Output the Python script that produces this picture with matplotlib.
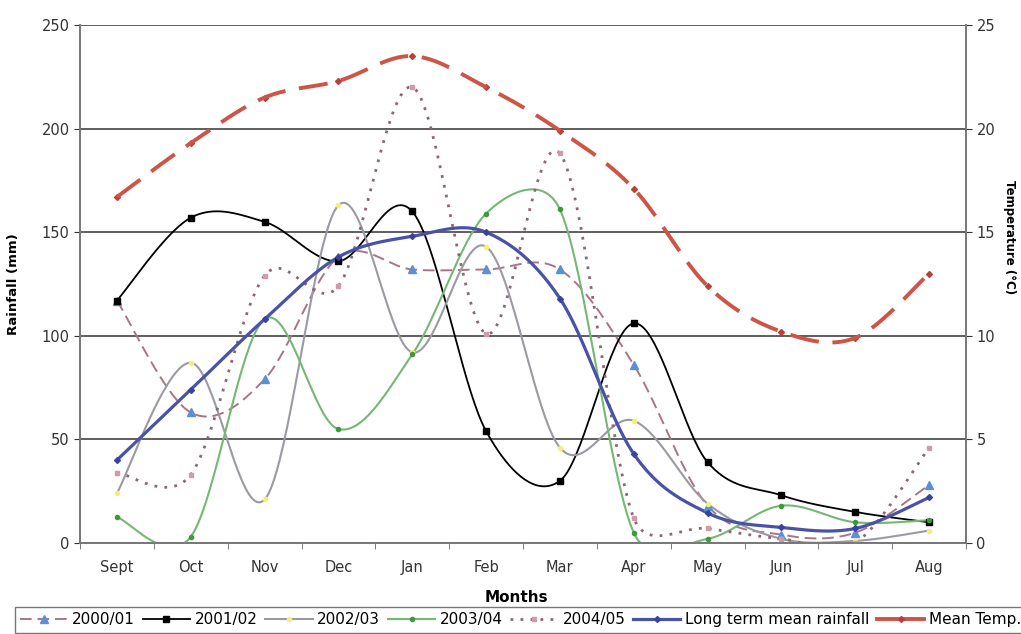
import numpy as np
import matplotlib.pyplot as plt
from matplotlib.lines import Line2D

plt.rcParams['font.family'] = ['DejaVu Sans']

# monthly rainfall (mm) per season and mean temperature (deg C)
months = ['Sept', 'Oct', 'Nov', 'Dec', 'Jan', 'Feb', 'Mar', 'Apr', 'May', 'Jun', 'Jul', 'Aug']
rain_2000_01 = [117, 63, 79, 138, 132, 132, 132, 86, 18, 4, 5, 28]
rain_2001_02 = [117, 157, 155, 136, 160, 54, 30, 106, 39, 23, 15, 10]
rain_2002_03 = [24, 87, 21, 163, 92, 143, 46, 59, 19, 2, 1, 6]
rain_2003_04 = [12.5, 3, 108, 55, 91, 159, 161, 5, 2, 18, 10, 11]
rain_2004_05 = [34, 33, 129, 124, 220, 101, 188, 12, 7, 2, 0, 46]
rain_longterm = [40, 74, 108, 138, 148, 150, 118, 43, 14.5, 7.5, 7, 22]
temp_mean = [16.7, 19.3, 21.5, 22.3, 23.5, 22.0, 19.9, 17.1, 12.4, 10.2, 9.9, 13.0]

PX_X = 886 / 12          # pixels per month on screen
PX_RAIN = 518 / 250      # pixels per mm
PX_TEMP = 518 / 25       # pixels per deg C


def smooth(vals, yscale, n=40):
    # spreadsheet-style smoothed line: bezier segments, control arm is 1/6 of the
    # neighbour chord but never more than half the segment (measured on screen)
    y = np.asarray(vals, dtype=float)
    P = np.column_stack([np.arange(len(y)) * PX_X, y * yscale])
    m = len(P)
    t = np.linspace(0, 1, n)[:, None]
    out = []
    for i in range(m - 1):
        p0 = P[i - 1] if i > 0 else P[i]
        p1, p2 = P[i], P[i + 1]
        p3 = P[i + 2] if i + 2 < m else P[i + 1]
        half = np.linalg.norm(p2 - p1) / 2
        a = (p2 - p0) / 6
        b = (p3 - p1) / 6
        if np.linalg.norm(a) > half:
            a = a * half / np.linalg.norm(a)
        if np.linalg.norm(b) > half:
            b = b * half / np.linalg.norm(b)
        c1 = p1 + a
        c2 = p2 - b
        seg = (1 - t) ** 3 * p1 + 3 * (1 - t) ** 2 * t * c1 + 3 * (1 - t) * t ** 2 * c2 + t ** 3 * p2
        out.append(seg)
    out = np.vstack(out)
    return out[:, 0] / PX_X, out[:, 1] / yscale


fig = plt.figure(figsize=(10.21, 6.34), dpi=100)
ax = fig.add_axes([80 / 1021, 91 / 634, 886 / 1021, 518 / 634])
ax2 = ax.twinx()

x = np.arange(len(months))

styles = [
    (rain_2000_01, '2000/01', dict(color='#a87585', lw=1.4, dashes=(6, 3)),
     dict(marker='^', ms=6, color='#5b8fd6')),
    (rain_2001_02, '2001/02', dict(color='black', lw=1.3),
     dict(marker='s', ms=4.5, color='black')),
    (rain_2002_03, '2002/03', dict(color='#9a9aa2', lw=1.5),
     dict(marker='o', ms=3, color='#f2f07a')),
    (rain_2003_04, '2003/04', dict(color='#74b874', lw=1.5),
     dict(marker='o', ms=3, color='#3c9a3c')),
    (rain_2004_05, '2004/05', dict(color='#8d6676', lw=2, dashes=(1, 2.6)),
     dict(marker='s', ms=2.5, color='#d09aa8')),
    (rain_longterm, 'Long term mean rainfall', dict(color='#4a52a8', lw=2.3),
     dict(marker='D', ms=3, color='#3a42a0')),
]

handles = []
for vals, label, lstyle, mstyle in styles:
    sx, sy = smooth(vals, PX_RAIN)
    ax.plot(sx, sy, zorder=3, **lstyle)
    ax.plot(x, vals, ls='none', zorder=4, marker=mstyle['marker'], ms=mstyle['ms'],
            mfc=mstyle['color'], mec=mstyle['color'])
    handles.append(Line2D([], [], marker=mstyle['marker'], ms=mstyle['ms'],
                          mfc=mstyle['color'], mec=mstyle['color'], label=label, **lstyle))

# mean temperature on the right axis
tx, ty = smooth(temp_mean, PX_TEMP)
ax2.plot(tx, ty, color='#cc5548', lw=2.8, dashes=(7.5, 3.5), zorder=3)
ax2.plot(x, temp_mean, ls='none', marker='D', ms=3, mfc='#b84038', mec='#b84038')
handles.append(Line2D([], [], color='#cc5548', lw=2.8, marker='D', ms=3,
                      mfc='#b84038', mec='#b84038', label='Mean Temp.'))

ax.set_xlim(-0.5, 11.5)
ax.set_ylim(0, 250)
ax2.set_ylim(0, 25)
ax.set_yticks(range(0, 251, 50))
ax2.set_yticks(range(0, 26, 5))

ax.set_xticks(x)
ax.set_xticklabels(months)
ax.set_xticks(np.arange(-0.5, 12, 1), minor=True)
ax.tick_params(axis='x', which='major', length=0, pad=12, labelsize=10.5, colors='#333333')
ax.tick_params(axis='x', which='minor', length=4, direction='out', color='#666666')
ax.tick_params(axis='y', length=4, direction='out', labelsize=10.5, colors='#333333')
ax2.tick_params(axis='y', length=4, direction='out', labelsize=10.5, colors='#333333')

ax.grid(axis='y', color='#333333', lw=1.1)
ax.set_axisbelow(True)
for a in (ax, ax2):
    a.spines['top'].set_visible(False)
    for s in ('left', 'right', 'bottom'):
        a.spines[s].set_color('#777777')
        a.spines[s].set_linewidth(1.2)

ax.set_ylabel('Rainfall (mm)', fontsize=9.5, fontweight='bold')
ax.yaxis.set_label_coords(-0.068, 0.5)
ax2.set_ylabel('Temperature (\u00b0C)', fontsize=8.5, fontweight='bold', rotation=270)
ax2.yaxis.set_label_coords(1.056, 0.59)
fig.text(516 / 1021, 1 - 597 / 634, 'Months', ha='center', va='center',
         fontsize=11, fontweight='bold')

fig.legend(handles=handles, loc='upper left', bbox_to_anchor=(15 / 1021, 1 - 607 / 634),
           ncol=7, fontsize=11, frameon=True, fancybox=False, edgecolor='#555555',
           handlelength=3.1, columnspacing=0.5, handletextpad=0.3, borderpad=0.35,
           borderaxespad=0)

fig.savefig('out.png', dpi=100)
